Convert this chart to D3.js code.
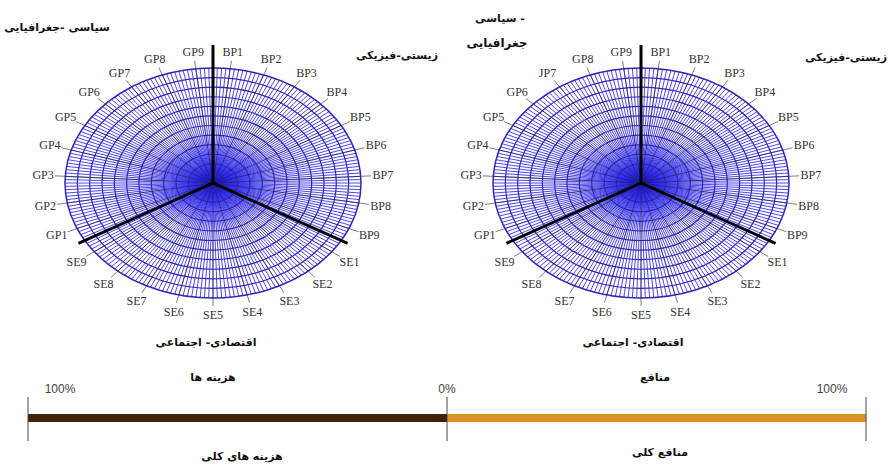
<!DOCTYPE html>
<html>
<head>
<meta charset="utf-8">
<script src="https://cdn.jsdelivr.net/npm/d3@7"></script>
<style>
  body { margin: 0; background: #fff; }
  svg { display: block; }
</style>
</head>
<body>
<div id="chart"></div>
<script>
// Constants for the page
const WIDTH = 891;
const HEIGHT = 464;
const RX = 148;
const RY = 115;

// Category labels, clockwise from the top
const bpLabels = ["BP1", "BP2", "BP3", "BP4", "BP5", "BP6", "BP7", "BP8", "BP9"];
const seLabels = ["SE1", "SE2", "SE3", "SE4", "SE5", "SE6", "SE7", "SE8", "SE9"];
const gpLabelsLeft = ["GP1", "GP2", "GP3", "GP4", "GP5", "GP6", "GP7", "GP8", "GP9"];
const gpLabelsRight = ["GP1", "GP2", "GP3", "GP4", "GP5", "GP6", "JP7", "GP8", "GP9"];

// Grid: number of rings and blue spokes per category
const ringCount = 12;
const spokesPerCategory = 8;

// Sector titles
const titlesLeft = ["سیاسی -جغرافیایی", "زیستی-فیزیکی", "اقتصادی- اجتماعی"];
const titlesRight = ["سیاسی -", "جغرافیایی", "زیستی-فیزیکی", "اقتصادی- اجتماعی"];

// Bottom balance bar
const balanceTicks = [-100, 0, 100];
const balanceTickLabels = ["100%", "0%", "100%"];
const balanceHeads = ["هزینه ها", "منافع"];
const balanceFoots = ["هزینه های کلی", "منافع کلی"];

const svg = d3.select("#chart").append("svg")
  .attr("width", WIDTH)
  .attr("height", HEIGHT);

// blue glow at the wheel centres
const grad = svg.append("defs").append("radialGradient").attr("id", "glow");
grad.append("stop").attr("offset", "0%").attr("stop-color", "#1010ff").attr("stop-opacity", 0.95);
grad.append("stop").attr("offset", "45%").attr("stop-color", "#2a2aff").attr("stop-opacity", 0.45);
grad.append("stop").attr("offset", "100%").attr("stop-color", "#4040ff").attr("stop-opacity", 0);

drawWheel(213, 183, gpLabelsLeft);
drawWheel(641, 183, gpLabelsRight);
drawTitles();
drawBalance();

/**
 * Draws one elliptic polar grid with its 27 category labels.
 */
function drawWheel (cx, cy, gpLabels) {

  const cats = bpLabels.concat(seLabels, gpLabels);
  const angle = d3.scaleBand().domain(cats).range([0, 2 * Math.PI]);
  const radius = d3.scaleLinear().domain([0, ringCount]).range([0, 1]);
  const nSpokes = cats.length * spokesPerCategory;
  const spokeAngle = d3.scaleLinear().domain([0, nSpokes]).range([0, 2 * Math.PI]);

  const px = (a, f) => cx + RX * f * Math.sin(a);
  const py = (a, f) => cy - RY * f * Math.cos(a);

  const g = svg.append("g");

  // blue spokes
  g.append("g").selectAll("line")
    .data(d3.range(nSpokes))
    .enter().append("line")
    .attr("x1", cx).attr("y1", cy)
    .attr("x2", (d) => px(spokeAngle(d), radius(ringCount)))
    .attr("y2", (d) => py(spokeAngle(d), radius(ringCount)))
    .attr("stroke", "#3a34e4")
    .attr("stroke-width", 0.9);

  g.append("ellipse")
    .attr("cx", cx).attr("cy", cy)
    .attr("rx", RX * 0.42).attr("ry", RY * 0.42)
    .attr("fill", "url(#glow)");

  // rings
  g.append("g").selectAll("ellipse")
    .data(d3.range(1, ringCount + 1))
    .enter().append("ellipse")
    .attr("cx", cx).attr("cy", cy)
    .attr("rx", (d) => RX * radius(d))
    .attr("ry", (d) => RY * radius(d))
    .attr("fill", "none")
    .attr("stroke", "#3424bc")
    .attr("stroke-width", (d) => d === ringCount ? 1.5 : 1.2);

  // thin black category ticks
  const mid = (c) => angle(c) + angle.bandwidth() / 2;
  g.append("g").selectAll("line")
    .data(cats)
    .enter().append("line")
    .attr("x1", cx).attr("y1", cy)
    .attr("x2", (d) => px(mid(d), 1.07))
    .attr("y2", (d) => py(mid(d), 1.07))
    .attr("stroke", "#222")
    .attr("stroke-opacity", 0.65)
    .attr("stroke-width", 0.9);

  // thick sector dividers
  const dividers = [bpLabels[0], seLabels[0], gpLabels[0]];
  g.append("g").selectAll("line")
    .data(dividers)
    .enter().append("line")
    .attr("x1", cx).attr("y1", cy)
    .attr("x2", (d, i) => px(angle(d), i === 0 ? 1.2 : 1.05))
    .attr("y2", (d, i) => py(angle(d), i === 0 ? 1.2 : 1.05))
    .attr("stroke", "#000")
    .attr("stroke-width", 3);

  // category labels
  g.append("g").selectAll("text")
    .data(cats)
    .enter().append("text")
    .attr("x", (d) => px(mid(d), 1.15))
    .attr("y", (d) => py(mid(d), 1.15))
    .attr("text-anchor", "middle")
    .attr("dominant-baseline", "central")
    .attr("font-family", "Liberation Serif, serif")
    .attr("font-size", 12)
    .attr("fill", "#333")
    .text((d) => d);
}

/**
 * Persian sector titles around the two wheels.
 */
function drawTitles () {

  const spots = [
    { t: titlesLeft[0], x: 57, y: 27, s: 11 },
    { t: titlesLeft[1], x: 397, y: 55, s: 11 },
    { t: titlesLeft[2], x: 206, y: 342, s: 11 },
    { t: titlesRight[0], x: 500, y: 18, s: 11 },
    { t: titlesRight[1], x: 497, y: 43, s: 12 },
    { t: titlesRight[2], x: 846, y: 57, s: 11 },
    { t: titlesRight[3], x: 633, y: 342, s: 11 }
  ];
  svg.append("g").selectAll("text")
    .data(spots)
    .enter().append("text")
    .attr("x", (d) => d.x)
    .attr("y", (d) => d.y)
    .attr("text-anchor", "middle")
    .attr("dominant-baseline", "central")
    .attr("font-family", "DejaVu Sans, sans-serif")
    .attr("font-weight", "bold")
    .attr("font-size", (d) => d.s)
    .attr("fill", "#111")
    .text((d) => d.t);
}

/**
 * Bottom cost / benefit bar.
 */
function drawBalance () {

  const x = d3.scaleLinear().domain([-100, 100]).range([28, 866]);
  const g = svg.append("g");
  const barY = 418;

  g.append("rect")
    .attr("x", x(-100)).attr("y", barY - 4)
    .attr("width", x(0) - x(-100)).attr("height", 8)
    .attr("fill", "#40230c");
  g.append("rect")
    .attr("x", x(0)).attr("y", barY - 4)
    .attr("width", x(100) - x(0)).attr("height", 8)
    .attr("fill", "#e0922a");

  g.selectAll(".tick")
    .data(balanceTicks)
    .enter().append("line")
    .attr("x1", (d) => x(d)).attr("x2", (d) => x(d))
    .attr("y1", 397).attr("y2", 441)
    .attr("stroke", "#444")
    .attr("stroke-width", 1);

  const offsets = [32, 0, -34];
  g.selectAll(".tlabel")
    .data(balanceTicks)
    .enter().append("text")
    .attr("x", (d, i) => x(d) + offsets[i])
    .attr("y", 389)
    .attr("text-anchor", "middle")
    .attr("dominant-baseline", "central")
    .attr("font-family", "Liberation Sans, sans-serif")
    .attr("font-size", 12)
    .attr("fill", "#444")
    .text((d, i) => balanceTickLabels[i]);

  const headX = [213, 655];
  const footX = [242, 660];
  const footY = [456, 452];
  g.selectAll(".head")
    .data(balanceHeads)
    .enter().append("text")
    .attr("x", (d, i) => headX[i])
    .attr("y", 377)
    .attr("text-anchor", "middle")
    .attr("dominant-baseline", "central")
    .attr("font-family", "DejaVu Sans, sans-serif")
    .attr("font-weight", "bold")
    .attr("font-size", 11)
    .attr("fill", "#111")
    .text((d) => d);
  g.selectAll(".foot")
    .data(balanceFoots)
    .enter().append("text")
    .attr("x", (d, i) => footX[i])
    .attr("y", (d, i) => footY[i])
    .attr("text-anchor", "middle")
    .attr("dominant-baseline", "central")
    .attr("font-family", "DejaVu Sans, sans-serif")
    .attr("font-weight", "bold")
    .attr("font-size", 11)
    .attr("fill", "#111")
    .text((d) => d);
}
</script>
</body>
</html>
